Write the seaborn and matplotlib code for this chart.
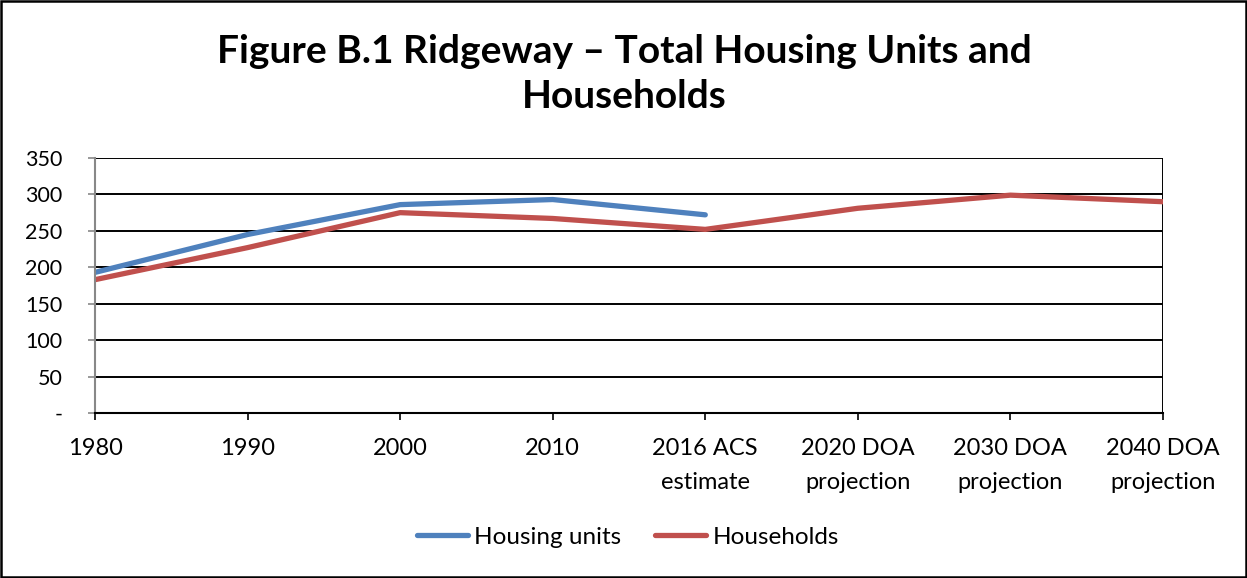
import matplotlib
matplotlib.use("Agg")
import matplotlib.pyplot as plt
import seaborn as sns
import pandas as pd
import numpy as np
from matplotlib.patches import Rectangle
from matplotlib.lines import Line2D

categories = ["1980", "1990", "2000", "2010", "2016 ACS\nestimate",
              "2020 DOA\nprojection", "2030 DOA\nprojection", "2040 DOA\nprojection"]
housing_units = [193, 245, 286, 293, 272, np.nan, np.nan, np.nan]
households = [183, 227, 275, 267, 252, 281, 299, 290]
series_names = ["Housing units", "Households"]
yticks = [0, 50, 100, 150, 200, 250, 300, 350]
ytick_labels = ["-", "50", "100", "150", "200", "250", "300", "350"]
title = "Figure B.1 Ridgeway – Total Housing Units and\nHouseholds"

sns.set_theme(style="white")
plt.rcParams['font.family'] = ['Lato', 'DejaVu Sans']
plt.rcParams['text.color'] = 'black'
plt.rcParams['xtick.color'] = 'black'
plt.rcParams['ytick.color'] = 'black'

df = pd.DataFrame({
    "x": list(range(len(categories))) * 2,
    "value": housing_units + households,
    "series": [series_names[0]] * len(categories) + [series_names[1]] * len(categories),
})

fig = plt.figure(figsize=(12.47, 5.78), dpi=100)
ax = fig.add_axes([95/1247, 1 - 413/578, (1163-95)/1247, (413-158)/578])

palette = {series_names[0]: "#4F81BD", series_names[1]: "#C0504D"}
sns.lineplot(data=df, x="x", y="value", hue="series", palette=palette,
             linewidth=3.8, ax=ax, legend=False, solid_capstyle="round")

ax.set_xlim(0, len(categories) - 1)
ax.set_ylim(0, 350)
ax.set_yticks(yticks)
ax.set_yticklabels(ytick_labels)
ax.set_xticks(range(len(categories)))
ax.set_xticklabels(categories, linespacing=1.78)
ax.set_xlabel("")
ax.set_ylabel("")

for y in yticks[1:]:
    ax.axhline(y, color="black", linewidth=1.4, zorder=0.5)

for s in ["top", "right"]:
    ax.spines[s].set_visible(False)
ax.spines["left"].set_color("#888888")
ax.spines["left"].set_linewidth(1.5)
ax.spines["bottom"].set_color("black")
ax.spines["bottom"].set_linewidth(1.5)
ax.axvline(len(categories) - 1, color="black", linewidth=1.4, zorder=0.5)

ax.tick_params(axis="y", which="major", direction="out", length=5, width=1.2,
               color="#888888", labelcolor="black", labelsize=15.5, pad=18.5, left=True)
ax.tick_params(axis="x", which="major", direction="out", length=5, width=1.2,
               color="black", labelcolor="black", labelsize=17, pad=13, bottom=True)

fig.text(0.501, 1 - 74/578, title, ha="center", va="center", fontsize=28,
         fontweight="bold", linespacing=1.34, color="black")

handles = [Line2D([0], [0], color=palette[n], linewidth=3.8, solid_capstyle="round")
           for n in series_names]
leg = fig.legend(handles, series_names, loc="center", bbox_to_anchor=(628/1247, 1 - 537/578),
                 ncol=2, frameon=False, fontsize=17.5, handlelength=2.1, handletextpad=0.25,
                 columnspacing=1.4, labelcolor="black")

fig.patches.append(Rectangle((0.0008, 0.0017), 0.9984, 0.9966, transform=fig.transFigure,
                             fill=False, edgecolor="black", linewidth=1.8))

fig.savefig("out.png", dpi=100)
